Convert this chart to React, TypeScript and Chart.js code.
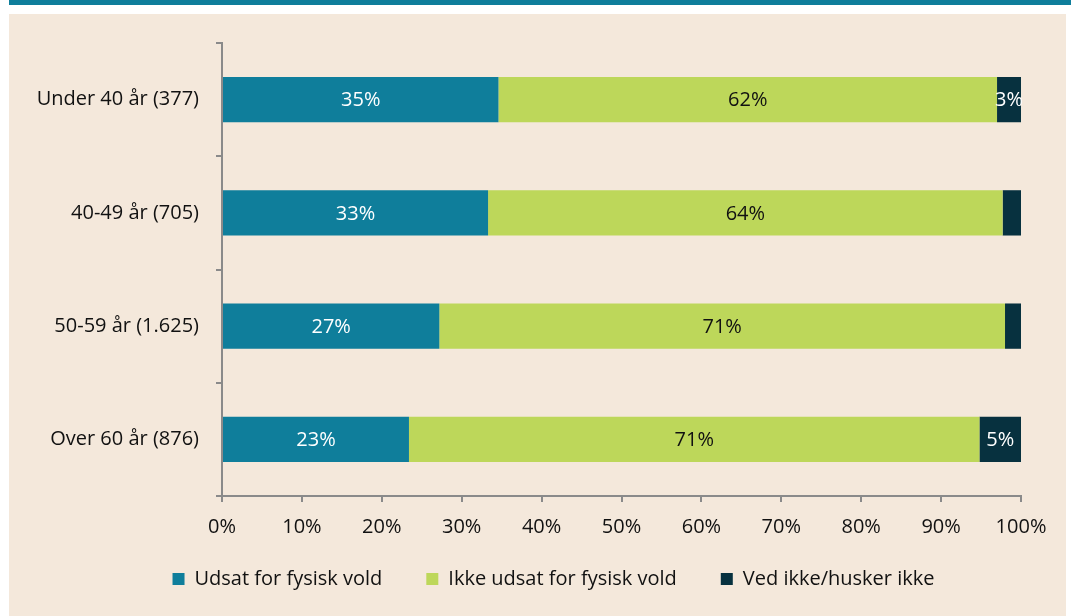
import React, { useEffect, useRef } from "react";
import { Chart, registerables } from "chart.js";

Chart.register(...registerables);

const categories = ["Under 40 år (377)", "40-49 år (705)", "50-59 år (1.625)", "Over 60 år (876)"];
const seriesNames = ["Udsat for fysisk vold", "Ikke udsat for fysisk vold", "Ved ikke/husker ikke"];
const exposed = [34.6, 33.3, 27.2, 23.4];
const notExposed = [62.4, 64.4, 70.8, 71.4];
const dontKnow = [3.0, 2.3, 2.0, 5.2];
const xTicks = [0, 10, 20, 30, 40, 50, 60, 70, 80, 90, 100];

const colors = ["#0F7E9B", "#BDD75A", "#07313F"];
const labelColors = ["#FFFFFF", "#111111", "#FFFFFF"];
const FONT = "'Open Sans', 'Noto Sans', sans-serif";

const dataLabelPlugin = {
  id: "dataLabels",
  afterDatasetsDraw(chart: any) {
    const ctx = chart.ctx;
    ctx.save();
    ctx.font = `20px ${FONT}`;
    ctx.textAlign = "center";
    ctx.textBaseline = "middle";
    chart.data.datasets.forEach((ds: any, di: number) => {
      const meta = chart.getDatasetMeta(di);
      meta.data.forEach((bar: any, i: number) => {
        const v = ds.data[i];
        if (v < 2.5) return;
        const cx = (bar.x + bar.base) / 2;
        ctx.fillStyle = labelColors[di];
        ctx.fillText(`${Math.round(v)}%`, cx, bar.y + 1);
      });
    });
    ctx.restore();
  },
};

const legendShiftPlugin = {
  id: "legendShift",
  afterLayout(chart: any) {
    const lg = chart.legend;
    if (!lg) return;
    const dx = 43;
    lg.left += dx;
    lg.right += dx;
    const h = lg.height;
    lg.top = 525;
    lg.bottom = 525 + h;
  },
};

export default function App() {
  const ref = useRef<HTMLCanvasElement>(null);
  useEffect(() => {
    if (!ref.current) return;
    const allData = [exposed, notExposed, dontKnow];
    const chart = new Chart(ref.current, {
      type: "bar",
      data: {
        labels: categories,
        datasets: seriesNames.map((name, i) => ({
          label: name,
          data: allData[i],
          backgroundColor: colors[i],
          borderWidth: 0,
          barPercentage: 0.4,
          categoryPercentage: 1,
        })),
      },
      options: {
        indexAxis: "y",
        animation: false,
        responsive: false,
        maintainAspectRatio: false,
        layout: { padding: { top: 43, right: 50, left: 0, bottom: 1 } },
        scales: {
          x: {
            stacked: true,
            min: 0,
            max: 100,
            afterBuildTicks: (scale: any) => {
              scale.ticks = xTicks.map((v) => ({ value: v }));
            },
            afterFit: (scale: any) => {
              scale.height = 45;
            },
            ticks: {
              callback: (v: any) => `${v}%`,
              color: "#111111",
              font: { family: FONT, size: 20 },
              padding: 13,
              maxRotation: 0,
            },
            grid: {
              drawOnChartArea: false,
              drawTicks: true,
              tickLength: 6,
              color: "#8A8A8A",
              lineWidth: 2,
            },
            border: { color: "#8A8A8A", width: 2 },
          },
          y: {
            stacked: true,
            afterFit: (scale: any) => {
              scale.width = 222;
            },
            ticks: {
              color: "#111111",
              font: { family: FONT, size: 20 },
              padding: 17,
            },
            grid: {
              drawOnChartArea: false,
              drawTicks: true,
              tickLength: 6,
              color: "#8A8A8A",
              lineWidth: 2,
            },
            border: { color: "#8A8A8A", width: 2 },
          },
        },
        plugins: {
          tooltip: { enabled: false },
          legend: {
            position: "bottom",
            labels: {
              boxWidth: 12,
              boxHeight: 12,
              padding: 44,
              color: "#111111",
              font: { family: FONT, size: 20 },
            },
          },
        },
      },
      plugins: [dataLabelPlugin, legendShiftPlugin],
    });
    return () => chart.destroy();
  }, []);

  return (
    <div style={{ position: "absolute", left: 0, top: 0, width: 1071, height: 616, background: "#FFFFFF", overflow: "hidden" }}>
      <div style={{ position: "absolute", left: 9, top: 0, width: 1062, height: 5, background: "#0F7E9B" }} />
      <div style={{ position: "absolute", left: 9, top: 14, width: 1057, height: 602, background: "#F4E8DB" }} />
      <canvas ref={ref} width={1071} height={616} style={{ position: "absolute", left: 0, top: 0 }} />
    </div>
  );
}
